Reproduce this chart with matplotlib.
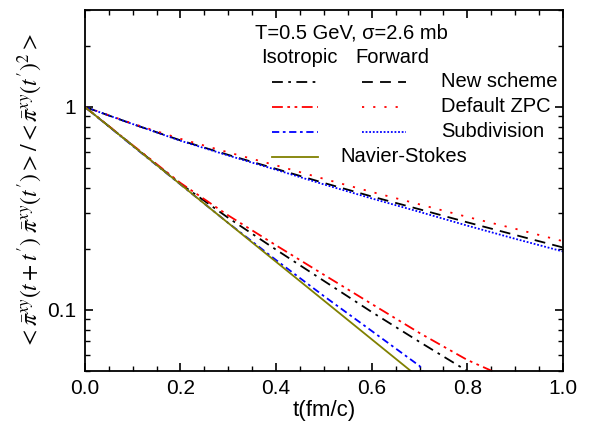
import matplotlib
matplotlib.use('Agg')
import matplotlib.pyplot as plt
from matplotlib.ticker import MultipleLocator, LogLocator, NullFormatter, FixedLocator, FixedFormatter

plt.rcParams['font.family'] = 'Liberation Sans'
plt.rcParams['mathtext.fontset'] = 'stix'

# time grid (fm/c)
t = [0.0, 0.1, 0.2, 0.3, 0.4, 0.5, 0.6, 0.7, 0.8, 0.9, 1.0]

# forward-angle collisions
fwd_new = [1.0, 0.823, 0.684, 0.580, 0.495, 0.422, 0.362, 0.313, 0.270, 0.234, 0.203]
fwd_zpc = [1.0, 0.827, 0.696, 0.597, 0.515, 0.442, 0.381, 0.331, 0.287, 0.251, 0.218]
fwd_sub = [1.0, 0.823, 0.681, 0.576, 0.490, 0.415, 0.354, 0.304, 0.260, 0.224, 0.194]

# isotropic collisions
t_iso_new = [0.0, 0.1, 0.2, 0.3, 0.4, 0.5, 0.6, 0.7, 0.8]
iso_new = [1.0, 0.646, 0.418, 0.284, 0.198, 0.139, 0.0977, 0.0696, 0.05]
t_iso_zpc = [0.0, 0.1, 0.2, 0.3, 0.4, 0.5, 0.6, 0.7, 0.8, 0.852]
iso_zpc = [1.0, 0.648, 0.422, 0.292, 0.208, 0.149, 0.107, 0.077, 0.0567, 0.05]
t_iso_sub = [0.0, 0.1, 0.2, 0.3, 0.4, 0.5, 0.6, 0.7, 0.707]
iso_sub = [1.0, 0.642, 0.415, 0.268, 0.176, 0.117, 0.0788, 0.053, 0.05]

# Navier-Stokes
t_ns = [0.0, 0.682]
ns = [1.0, 0.05]

fig = plt.figure(figsize=(6.1, 4.32), dpi=100)
ax = fig.add_axes([0.139, 0.141, 0.784, 0.836])

lw = 1.3
ax.plot(t, fwd_new, color='black', lw=lw, dashes=(6, 4))
ax.plot(t, fwd_zpc, color='red', lw=lw, dashes=(1.2, 5))
ax.plot(t, fwd_sub, color='blue', lw=lw, dashes=(1, 1))
ax.plot(t_iso_new, iso_new, color='black', lw=lw, dashes=(6, 3, 1.5, 3))
ax.plot(t_iso_zpc, iso_zpc, color='red', lw=lw, dashes=(6, 2.5, 1.5, 2.5, 1.5, 2.5))
ax.plot(t_iso_sub, iso_sub, color='blue', lw=lw, dashes=(4, 2, 1.5, 2))
ax.plot(t_ns, ns, color='#808000', lw=lw)

ax.set_yscale('log')
ax.set_xlim(0, 1.0)
ax.set_ylim(0.05, 3.0)
ax.xaxis.set_major_locator(MultipleLocator(0.2))
ax.xaxis.set_minor_locator(MultipleLocator(0.05))
ax.yaxis.set_major_locator(FixedLocator([0.1, 1]))
ax.yaxis.set_major_formatter(FixedFormatter(['0.1', '1']))
ax.yaxis.set_minor_locator(LogLocator(base=10, subs=range(2, 10)))
ax.yaxis.set_minor_formatter(NullFormatter())
ax.tick_params(which='both', direction='in', top=True, right=True, labelsize=15)
ax.tick_params(which='major', length=6, width=1.2, pad=6)
ax.tick_params(which='minor', length=3.5, width=1.0)
ax.xaxis.set_major_formatter(matplotlib.ticker.FormatStrFormatter('%.1f'))
for s in ax.spines.values():
    s.set_linewidth(1.3)

ax.set_xlabel('t(fm/c)', fontsize=16, labelpad=1)
ax.set_ylabel(r"$<\bar{\pi}^{xy}(t+t')\ \bar{\pi}^{xy}(t')>/<\bar{\pi}^{xy}(t')^2>$",
              fontsize=17, labelpad=2)

# hand-made legend (in axes fraction)
def fx(px):
    return (px - 85) / 478.0

def fy(py):
    return (371 - py) / 361.0

fs = 14.5
ax.text(fx(255), fy(33), 'T=0.5 GeV, σ=2.6 mb', transform=ax.transAxes,
        fontsize=fs, va='center', ha='left')
ax.text(fx(261), fy(58), 'Isotropic', transform=ax.transAxes, fontsize=fs, va='center')
ax.text(fx(355), fy(58), 'Forward', transform=ax.transAxes, fontsize=fs, va='center')

rows = [
    ('New scheme', 'black', (6, 3, 1.5, 3), (6, 4)),
    ('Default ZPC', 'red', (6, 2.5, 1.5, 2.5, 1.5, 2.5), (1.2, 5)),
    ('Subdivision', 'blue', (4, 2, 1.5, 2), (1, 1)),
]
for i, (lab, col, d_iso, d_fwd) in enumerate(rows):
    y = fy(82 + 25 * i)
    ax.plot([fx(272), fx(318)], [y, y], transform=ax.transAxes, color=col, lw=lw, dashes=d_iso)
    ax.plot([fx(362), fx(406)], [y, y], transform=ax.transAxes, color=col, lw=lw, dashes=d_fwd)
    ax.text(fx(441), y, lab, transform=ax.transAxes, fontsize=fs, va='center')

y = fy(157)
ax.plot([fx(272), fx(318)], [y, y], transform=ax.transAxes, color='#808000', lw=lw)
ax.text(fx(340), y, 'Navier-Stokes', transform=ax.transAxes, fontsize=fs, va='center')

fig.savefig('out.png', dpi=100, facecolor='white')
